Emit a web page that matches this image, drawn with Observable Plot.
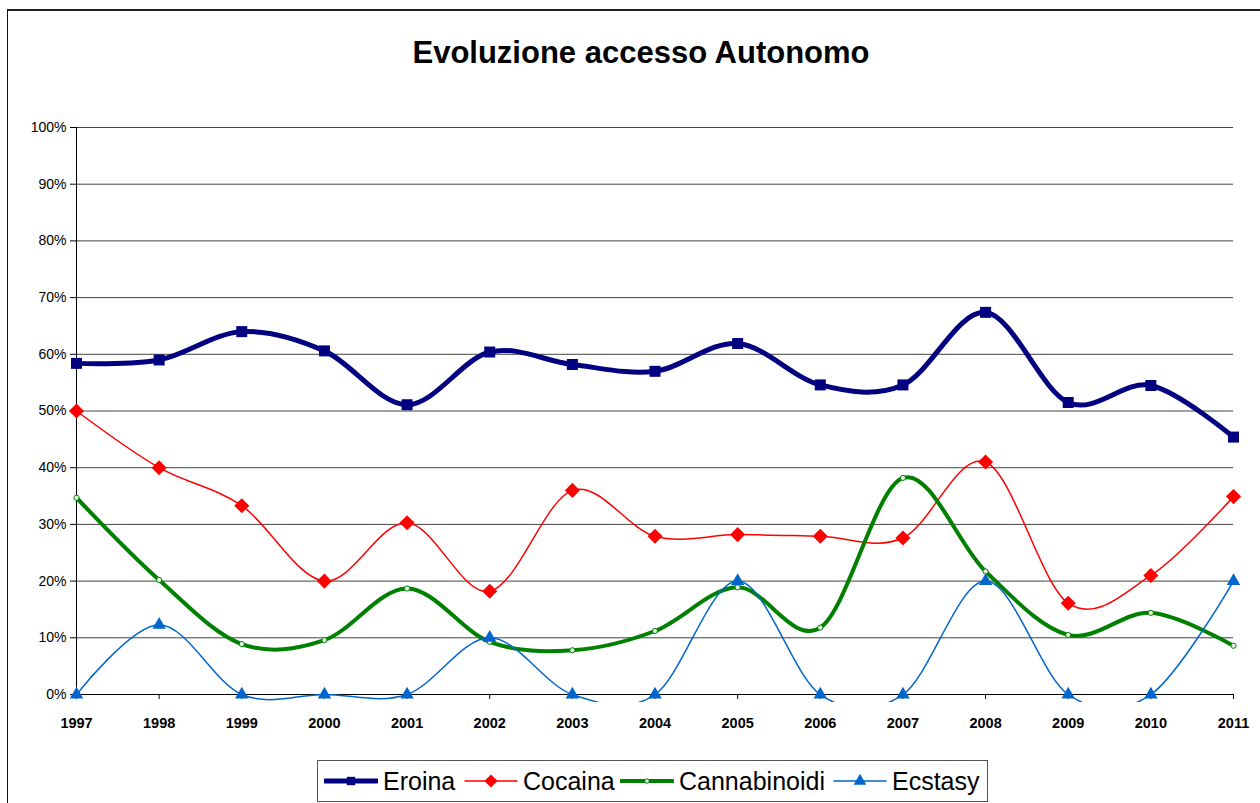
<!DOCTYPE html>
<html>
<head>
<meta charset="utf-8">
<script src="https://cdn.jsdelivr.net/npm/d3@7"></script>
<script src="https://cdn.jsdelivr.net/npm/@observablehq/plot@0.6"></script>
<style>
  html, body { margin: 0; padding: 0; background: #fff; overflow: hidden; }
  body { width: 1260px; height: 803px; position: relative; font-family: "Liberation Sans", Arial, sans-serif; }
  #frame { position: absolute; left: 7px; top: 9px; width: 1300px; height: 900px; border-top: 2px solid #222; border-left: 1.5px solid #111; box-sizing: border-box; }
  #title { position: absolute; left: 0; width: 1282px; top: 35px; text-align: center; font-weight: bold; font-size: 31px; color: #000; }
  #chart { position: absolute; left: 0; top: 90px; }
  #legend { position: absolute; left: 317px; top: 760px; width: 671px; height: 42px; border: 1px solid #555; box-sizing: border-box; background: #fff; }
  .item { position: absolute; top: 0; height: 40px; display: flex; align-items: center; font-size: 25px; color: #000; }
  .item svg { margin-right: 5px; }
</style>
</head>
<body>
<div id="frame"></div>
<div id="title">Evoluzione accesso Autonomo</div>
<div id="chart"></div>
<div id="legend"></div>
<script>
const years = [1997, 1998, 1999, 2000, 2001, 2002, 2003, 2004, 2005, 2006, 2007, 2008, 2009, 2010, 2011];
const eroina       = [58.4, 59.0, 64.0, 60.6, 51.1, 60.4, 58.2, 57.0, 61.9, 54.6, 54.6, 67.4, 51.5, 54.5, 45.4];
const cocaina      = [50.0, 40.0, 33.3, 20.0, 30.3, 18.2, 36.0, 27.9, 28.2, 27.9, 27.6, 41.0, 16.1, 21.0, 34.9];
const cannabinoidi = [34.7, 20.2,  8.9,  9.6, 18.7,  9.3,  7.8, 11.2, 18.9, 11.8, 38.2, 21.7, 10.5, 14.4,  8.6];
const ecstasy      = [ 0.0, 12.3,  0.0,  0.0,  0.0, 10.0,  0.0,  0.0, 20.0,  0.0,  0.0, 20.0,  0.0,  0.0, 20.0];
const seriesNames = ["Eroina", "Cocaina", "Cannabinoidi", "Ecstasy"];
const yTicks = [0, 0.1, 0.2, 0.3, 0.4, 0.5, 0.6, 0.7, 0.8, 0.9, 1.0];

const seriesValues = [eroina, cocaina, cannabinoidi, ecstasy];
const styles = {
  Eroina:       {color: "#000080", width: 5,   symbol: "square",   r: 6.2, fill: "#000080", stroke: "none"},
  Cocaina:      {color: "#FF0000", width: 1.5, symbol: "diamond2", r: 6.8, fill: "#FF0000", stroke: "none"},
  Cannabinoidi: {color: "#008000", width: 4,   symbol: "circle",   r: 2.6, fill: "#e8f5e8", stroke: "#008000"},
  Ecstasy:      {color: "#0066CC", width: 1.5, symbol: "triangle", r: 5,   fill: "#0066CC", stroke: "none"}
};
const data = seriesNames.map((name, i) => years.map((year, j) => ({series: name, year, value: seriesValues[i][j] / 100})));

const x0 = years[0], x1 = years[years.length - 1];
const marks = [
  Plot.ruleY(yTicks.filter(d => d > 0), {x1: x0, x2: x1, stroke: "#444", strokeWidth: 1}),
  Plot.ruleY([0], {x1: x0, x2: x1, stroke: "#000", strokeWidth: 1}),
  Plot.ruleX([x0], {y1: 0, y2: 1, stroke: "#000", strokeWidth: 1}),
  Plot.ruleX(years, {y1: 0, y2: -0.0088, stroke: "#000", strokeWidth: 1}),
  Plot.axisY({ticks: yTicks, tickFormat: d3.format(".0%"), tickSize: 6, tickPadding: 4, fontSize: 14, label: null, stroke: "#000"}),
  Plot.axisX({ticks: years, tickFormat: d => String(d), tickSize: 0, tickPadding: 15, fontSize: 14.5, fontWeight: "bold", label: null})
];
data.forEach(d => {
  const s = styles[d[0].series];
  marks.push(Plot.line(d, {x: "year", y: "value", curve: "cardinal", stroke: s.color, strokeWidth: s.width, strokeLinejoin: "round", clip: true}));
  marks.push(Plot.dot(d, {x: "year", y: "value", symbol: s.symbol, r: s.r, fill: s.fill, stroke: s.stroke, strokeWidth: 1}));
});

const chart = Plot.plot({
  width: 1260,
  height: 660,
  marginLeft: 76,
  marginRight: 27,
  marginTop: 37,
  marginBottom: 48,
  style: {fontFamily: "'Liberation Sans', Arial, sans-serif", color: "#000", background: "transparent", overflow: "visible"},
  x: {type: "linear", domain: [x0, x1]},
  y: {domain: [-0.0141, 1]},
  marks
});
document.getElementById("chart").appendChild(chart);

// Legend
const legendPos = [
  {name: "Eroina", left: 6},
  {name: "Cocaina", left: 146},
  {name: "Cannabinoidi", left: 302},
  {name: "Ecstasy", left: 515}
];
const legend = document.getElementById("legend");
legendPos.forEach(p => {
  const s = styles[p.name];
  const div = document.createElement("div");
  div.className = "item";
  div.style.left = p.left + "px";
  const sym = d3.symbol(p.name === "Eroina" ? d3.symbolSquare : p.name === "Cocaina" ? d3.symbolDiamond2 : p.name === "Cannabinoidi" ? d3.symbolCircle : d3.symbolTriangle,
    p.name === "Eroina" ? 70 : p.name === "Cocaina" ? 110 : p.name === "Cannabinoidi" ? 16 : 70)();
  div.innerHTML = `<svg width="54" height="20" viewBox="0 0 54 20"><line x1="1" x2="53" y1="10" y2="10" stroke="${s.color}" stroke-width="${s.width}" stroke-linecap="round"/><path d="${sym}" transform="translate(27,10)" fill="${s.fill}" stroke="${s.stroke}"/></svg><span>${p.name}</span>`;
  legend.appendChild(div);
});
</script>
</body>
</html>
